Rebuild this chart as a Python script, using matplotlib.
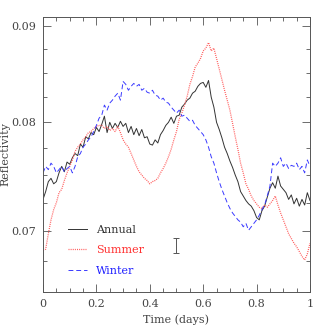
import numpy as np
import matplotlib
matplotlib.use("Agg")
import matplotlib.pyplot as plt
from matplotlib.ticker import FixedLocator, NullFormatter, FormatStrFormatter

# time of day, sampled every 0.01 day
time = np.round(np.arange(0, 1.001, 0.01), 2)

annual = [0.0728, 0.0735, 0.0744, 0.0747, 0.0742, 0.0744, 0.0752, 0.0758, 0.0753, 0.0762,
          0.0760, 0.0766, 0.0770, 0.0768, 0.0779, 0.0776, 0.0786, 0.0784, 0.0790, 0.0788,
          0.0795, 0.0791, 0.0798, 0.0806, 0.0790, 0.0800, 0.0794, 0.0799, 0.0795, 0.0801,
          0.0796, 0.0799, 0.0790, 0.0796, 0.0788, 0.0794, 0.0787, 0.0793, 0.0785, 0.0786,
          0.0779, 0.0778, 0.0783, 0.0780, 0.0788, 0.0792, 0.0797, 0.0800, 0.0805, 0.0799,
          0.0806, 0.0807, 0.0815, 0.0818, 0.0822, 0.0824, 0.0829, 0.0831, 0.0836, 0.0839,
          0.0840, 0.0835, 0.0842, 0.0825, 0.0815, 0.0800, 0.0793, 0.0785, 0.0776, 0.0770,
          0.0763, 0.0757, 0.0750, 0.0744, 0.0735, 0.0731, 0.0727, 0.0724, 0.0722, 0.0718,
          0.0712, 0.0710, 0.0718, 0.0722, 0.0730, 0.0738, 0.0743, 0.0738, 0.0749, 0.0740,
          0.0737, 0.0734, 0.0728, 0.0732, 0.0724, 0.0729, 0.0722, 0.0728, 0.0723, 0.0734,
          0.0727]

summer = [0.0684, 0.0685, 0.0698, 0.0710, 0.0719, 0.0725, 0.0734, 0.0737, 0.0745, 0.0752,
          0.0758, 0.0764, 0.0772, 0.0776, 0.0779, 0.0783, 0.0786, 0.0790, 0.0791, 0.0794,
          0.0796, 0.0797, 0.0797, 0.0794, 0.0796, 0.0792, 0.0794, 0.0791, 0.0796, 0.0790,
          0.0783, 0.0779, 0.0776, 0.0770, 0.0764, 0.0758, 0.0753, 0.0750, 0.0747, 0.0745,
          0.0742, 0.0744, 0.0745, 0.0747, 0.0752, 0.0756, 0.0761, 0.0767, 0.0774, 0.0783,
          0.0791, 0.0803, 0.0809, 0.0817, 0.0826, 0.0838, 0.0846, 0.0856, 0.0860, 0.0865,
          0.0873, 0.0876, 0.0882, 0.0873, 0.0876, 0.0865, 0.0854, 0.0843, 0.0832, 0.0822,
          0.0812, 0.0799, 0.0786, 0.0774, 0.0761, 0.0752, 0.0742, 0.0737, 0.0731, 0.0727,
          0.0724, 0.0721, 0.0720, 0.0723, 0.0721, 0.0724, 0.0727, 0.0731, 0.0723, 0.0716,
          0.0710, 0.0704, 0.0698, 0.0694, 0.0690, 0.0687, 0.0683, 0.0679, 0.0676, 0.0681,
          0.0690]

winter = [0.0752, 0.0758, 0.0755, 0.0761, 0.0758, 0.0752, 0.0755, 0.0758, 0.0753, 0.0756,
          0.0758, 0.0752, 0.0758, 0.0767, 0.0770, 0.0776, 0.0779, 0.0783, 0.0786, 0.0791,
          0.0797, 0.0804, 0.0807, 0.0817, 0.0812, 0.0819, 0.0822, 0.0826, 0.0829, 0.0822,
          0.0841, 0.0838, 0.0832, 0.0836, 0.0839, 0.0836, 0.0838, 0.0832, 0.0834, 0.0830,
          0.0829, 0.0832, 0.0827, 0.0826, 0.0822, 0.0824, 0.0820, 0.0819, 0.0815, 0.0812,
          0.0809, 0.0812, 0.0806, 0.0807, 0.0804, 0.0801, 0.0802, 0.0797, 0.0794, 0.0791,
          0.0788, 0.0783, 0.0776, 0.0767, 0.0761, 0.0752, 0.0744, 0.0737, 0.0731, 0.0725,
          0.0720, 0.0716, 0.0713, 0.0710, 0.0708, 0.0704, 0.0707, 0.0701, 0.0704, 0.0707,
          0.0710, 0.0714, 0.0719, 0.0723, 0.0731, 0.0740, 0.0761, 0.0758, 0.0761, 0.0766,
          0.0758, 0.0761, 0.0756, 0.0759, 0.0758, 0.0761, 0.0755, 0.0758, 0.0752, 0.0764,
          0.0758]

# typical error bar
err_x = 0.5
err_y = 0.0688
err_half = 0.0006

plt.rcParams['font.family'] = ['DejaVu Serif']
plt.rcParams['font.size'] = 8
txt = '#444444'

fig = plt.figure(figsize=(3.27, 3.27), dpi=100)
ax = fig.add_axes([0.1315, 0.107, 0.8165, 0.841])

ax.plot(time, annual, color='#333333', lw=0.7, ls='-', label='Annual')
ax.plot(time, summer, color='#ff5a5a', lw=0.9, ls=(0, (0.8, 0.9)), label='Summer')
ax.plot(time, winter, color='#3a3aff', lw=0.7, ls=(0, (5, 3)), label='Winter')
ax.errorbar([err_x], [err_y], yerr=err_half, fmt='none', ecolor='#555555',
            elinewidth=0.7, capsize=2, capthick=0.7)

ax.set_yscale('log')
ax.set_xlim(0, 1)
ax.set_ylim(0.065, 0.091)

ax.yaxis.set_major_locator(FixedLocator([0.07, 0.08, 0.09]))
ax.yaxis.set_major_formatter(FormatStrFormatter('%.2f'))
ax.yaxis.set_minor_locator(FixedLocator(np.arange(0.065, 0.0911, 0.0025)))
ax.yaxis.set_minor_formatter(NullFormatter())
ax.set_xticks([0, 0.2, 0.4, 0.6, 0.8, 1.0])
ax.set_xticklabels(['0', '0.2', '0.4', '0.6', '0.8', '1'])
ax.set_xticks(np.arange(0, 1.001, 0.05), minor=True)

ax.tick_params(which='both', direction='in', top=True, right=True,
               color='#555555', width=0.6, labelcolor=txt)
ax.tick_params(which='major', length=6, pad=5)
ax.tick_params(which='minor', length=3)
for s in ax.spines.values():
    s.set_color('#555555')
    s.set_linewidth(0.7)

ax.set_xlabel('Time (days)', color=txt, labelpad=4)
ax.set_ylabel('Reflectivity', color=txt)
ax.yaxis.set_label_coords(-0.122, 0.5)

leg = ax.legend(loc='upper left', bbox_to_anchor=(0.095, 0.245), frameon=False,
                borderpad=0, borderaxespad=0, handlelength=1.7, handletextpad=0.8,
                labelspacing=0.95, labelcolor=['#333333', '#ff3030', '#2020ff'])

fig.savefig('out.png', dpi=100)
